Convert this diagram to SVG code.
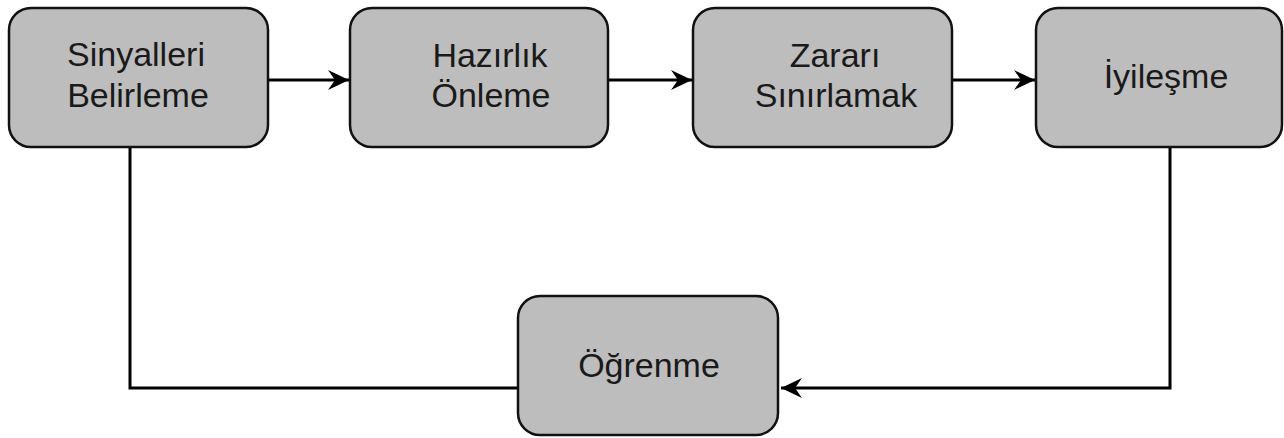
<svg xmlns="http://www.w3.org/2000/svg" width="1284" height="438" viewBox="0 0 1284 438">
  <style>
    .box { fill: #bdbdbd; stroke: #111; stroke-width: 2.5; }
    .lbl { font-family: "Liberation Sans", Arial, sans-serif; font-size: 34px; fill: #1a1a1a; text-anchor: middle; }
    .edge { fill: none; stroke: #000; stroke-width: 3; }
  </style>
  <defs>
    <marker id="arrow" markerUnits="userSpaceOnUse" markerWidth="24" markerHeight="24" viewBox="-22 -11 24 22" refX="0" refY="0" orient="auto">
      <path d="M0,0 L-21,-10 L-14,0 L-21,10 Z" fill="#000"/>
    </marker>
  </defs>
  <rect width="1284" height="438" fill="#fff"/>

  <!-- connectors -->
  <g id="connectors">
    <line class="edge" x1="268" y1="80" x2="349" y2="80" marker-end="url(#arrow)"/>
    <line class="edge" x1="608" y1="80" x2="692" y2="80" marker-end="url(#arrow)"/>
    <line class="edge" x1="952" y1="80" x2="1035" y2="80" marker-end="url(#arrow)"/>
    <polyline class="edge" points="130,147 130,388 518,388"/>
    <polyline class="edge" points="1170,147 1170,388 781,388" marker-end="url(#arrow)"/>
  </g>

  <!-- process steps -->
  <g id="node-sinyaller">
    <rect class="box" x="9" y="8" width="259" height="139" rx="22"/>
    <text class="lbl" x="136" y="66">Sinyalleri</text>
    <text class="lbl" x="138" y="107">Belirleme</text>
  </g>
  <g id="node-hazirlik">
    <rect class="box" x="350" y="8" width="258" height="139" rx="22"/>
    <text class="lbl" x="490" y="67">Hazırlık</text>
    <text class="lbl" x="491" y="107">Önleme</text>
  </g>
  <g id="node-zarari">
    <rect class="box" x="693" y="8" width="259" height="139" rx="22"/>
    <text class="lbl" x="835" y="67">Zararı</text>
    <text class="lbl" x="836" y="107">Sınırlamak</text>
  </g>
  <g id="node-iyilesme">
    <rect class="box" x="1036" y="8" width="246" height="139" rx="22"/>
    <text class="lbl" x="1166" y="88">İyileşme</text>
  </g>
  <g id="node-ogrenme">
    <rect class="box" x="518" y="296" width="260" height="139" rx="22"/>
    <text class="lbl" x="649" y="377">Öğrenme</text>
  </g>
</svg>
